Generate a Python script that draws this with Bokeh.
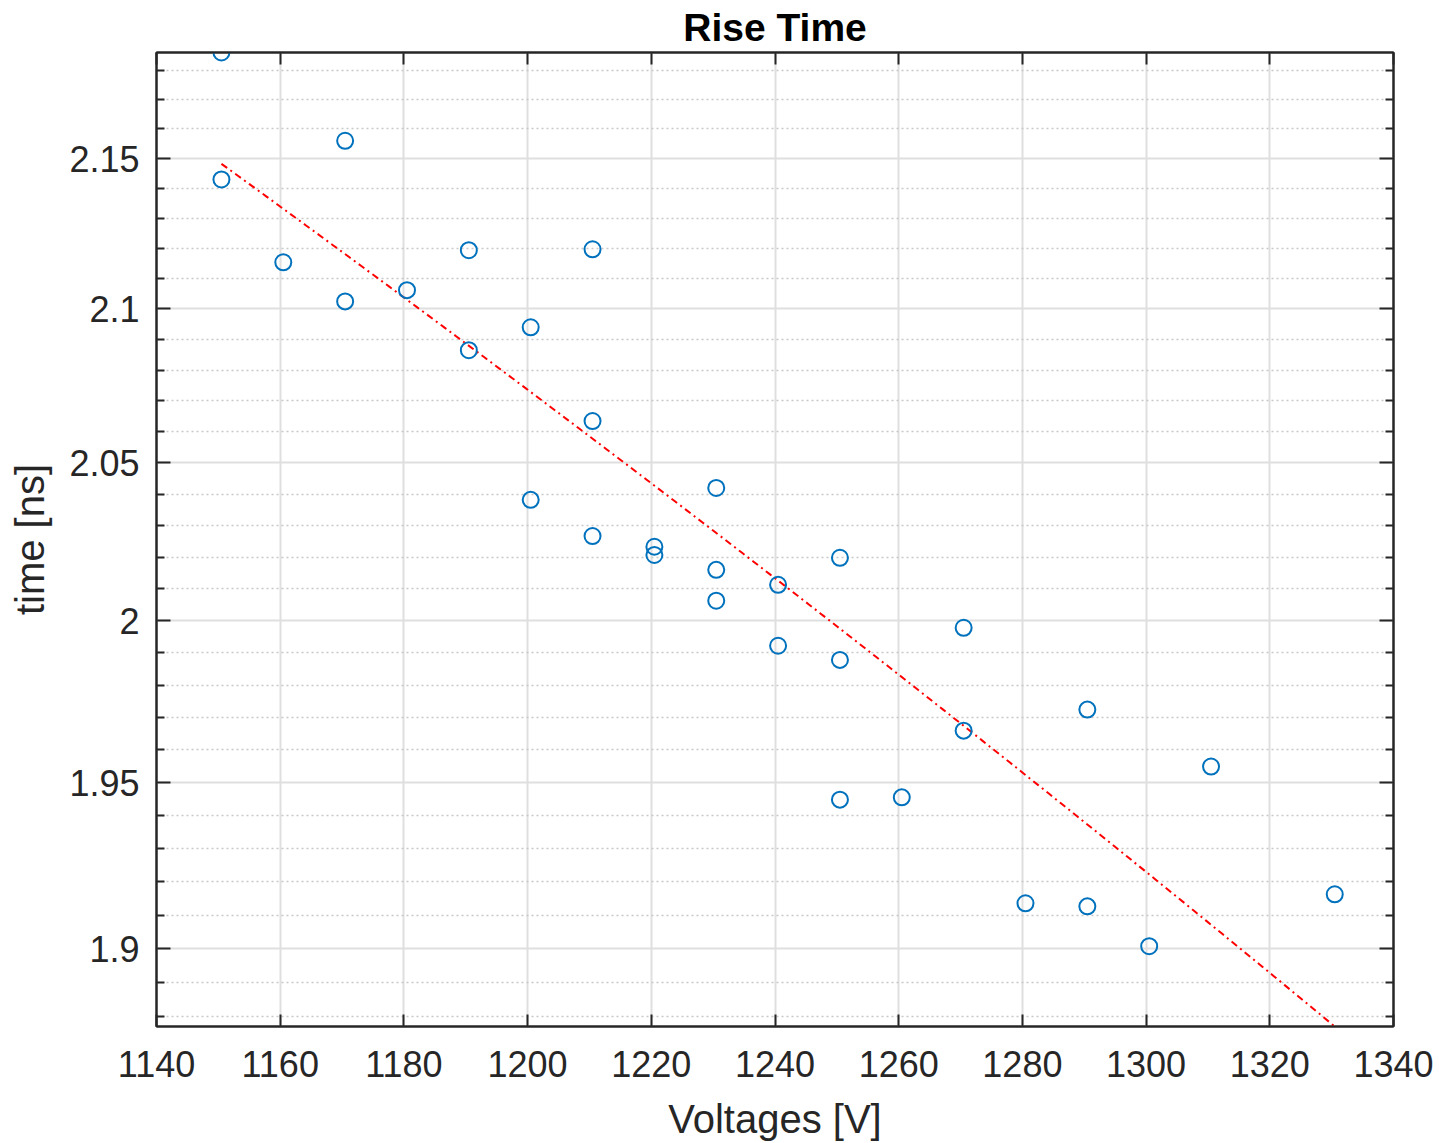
import numpy as np
from bokeh.plotting import figure
from bokeh.models import Range1d, LinearAxis, LogAxis, FixedTicker, CustomJSTickFormatter
from bokeh.embed import file_html
from bokeh.resources import INLINE

# ---- data ----
voltages = [1150.5, 1150.5, 1160.5, 1170.5, 1170.5, 1180.5, 1190.5, 1190.5,
            1200.5, 1200.5, 1210.5, 1210.5, 1210.5, 1220.5, 1220.5,
            1230.5, 1230.5, 1230.5, 1240.5, 1240.5, 1250.5, 1250.5, 1250.5,
            1260.5, 1270.5, 1270.5, 1280.5, 1290.5, 1290.5, 1300.5, 1310.5, 1330.5]
rise_time_ns = [2.186, 2.143, 2.1154, 2.156, 2.1025, 2.1062, 2.1194, 2.0865,
                2.094, 2.0382, 2.1197, 2.0635, 2.0267, 2.0233, 2.0207,
                2.042, 2.016, 2.0063, 2.0113, 1.9922, 2.0198, 1.9878, 1.9448,
                1.9455, 1.9978, 1.9659, 1.9135, 1.9724, 1.9126, 1.9007, 1.9549, 1.9162]

x_ticks = [1140, 1160, 1180, 1200, 1220, 1240, 1260, 1280, 1300, 1320, 1340]
y_ticks = [1.9, 1.95, 2.0, 2.05, 2.1, 2.15]
y_minor_ticks = [1.88, 1.89, 1.91, 1.92, 1.93, 1.94, 1.96, 1.97, 1.98, 1.99,
                 2.01, 2.02, 2.03, 2.04, 2.06, 2.07, 2.08, 2.09, 2.11, 2.12,
                 2.13, 2.14, 2.16, 2.17, 2.18]

# linear least-squares fit (as in the original figure)
coef = np.polyfit(voltages, rise_time_ns, 1)
fit_v = np.linspace(min(voltages), max(voltages), 200)
fit_t = np.polyval(coef, fit_v)

y_lo = min(float(fit_t.min()), min(rise_time_ns))
y_hi = max(float(fit_t.max()), max(rise_time_ns))

AX = "#262626"
FONT = "Liberation Sans"

p = figure(width=1439, height=1143,
           x_range=Range1d(1140, 1340), y_range=Range1d(y_lo, y_hi),
           y_axis_type="log",
           output_backend="svg", toolbar_location=None,
           min_border_left=156, min_border_right=46,
           min_border_top=52, min_border_bottom=117)
p.background_fill_color = "white"
p.border_fill_color = "white"
p.outline_line_color = AX
p.outline_line_width = 2

p.title.text = "Rise Time"
p.title.text_font = FONT
p.title.text_font_size = "39px"
p.title.text_font_style = "bold"
p.title.text_color = "black"
p.title.align = "center"
p.title.standoff = 7

xt = FixedTicker(ticks=x_ticks, minor_ticks=[])
yt = FixedTicker(ticks=y_ticks, minor_ticks=y_minor_ticks)
yfmt = CustomJSTickFormatter(code="return (Math.round(tick*1000)/1000).toString();")
blank = CustomJSTickFormatter(code="return '';")

def style(ax, labels=True):
    ax.axis_line_color = AX
    ax.axis_line_width = 2
    ax.major_tick_line_color = AX
    ax.major_tick_line_width = 2
    ax.minor_tick_line_color = AX
    ax.minor_tick_line_width = 2
    ax.major_tick_out = 0
    ax.minor_tick_out = 0
    ax.major_label_text_font = FONT
    ax.major_label_text_color = AX
    ax.axis_label_text_font = FONT
    ax.axis_label_text_color = AX
    ax.axis_label_text_font_style = "normal"
    ax.axis_label_text_font_size = "40px"
    ax.major_label_text_font_size = "36px"
    if not labels:
        ax.formatter = blank
        ax.major_label_standoff = 0

xa = p.xaxis[0]
xa.ticker = xt
style(xa)
xa.major_tick_in = 12
xa.minor_tick_in = 0
xa.major_label_standoff = 24
xa.axis_label = "Voltages [V]"
xa.axis_label_standoff = 17

ya = p.yaxis[0]
ya.ticker = yt
ya.formatter = yfmt
style(ya)
ya.major_tick_in = 14
ya.minor_tick_in = 8
ya.major_label_standoff = 17
ya.axis_label = "time [ns]"
ya.axis_label_standoff = 14

top = LinearAxis(ticker=xt)
style(top, labels=False)
top.major_tick_in = 12
top.minor_tick_in = 0
p.add_layout(top, "above")

right = LogAxis(ticker=yt)
style(right, labels=False)
right.major_tick_in = 14
right.minor_tick_in = 8
p.add_layout(right, "right")

p.xgrid.ticker = xt
p.xgrid.grid_line_color = "#dfdfdf"
p.xgrid.grid_line_width = 2
p.ygrid.ticker = yt
p.ygrid.grid_line_color = "#dfdfdf"
p.ygrid.grid_line_width = 2
p.ygrid.minor_grid_line_color = "#c8c8c8"
p.ygrid.minor_grid_line_width = 1.5
p.ygrid.minor_grid_line_dash = "2 3"

p.line(fit_v, fit_t, line_color="red", line_width=2, line_dash="7 4 2 4")
p.scatter(voltages, rise_time_ns, marker="circle", size=16,
          fill_color=None, line_color="#0072BD", line_width=2)

open("out.html", "w").write(file_html(p, INLINE))
